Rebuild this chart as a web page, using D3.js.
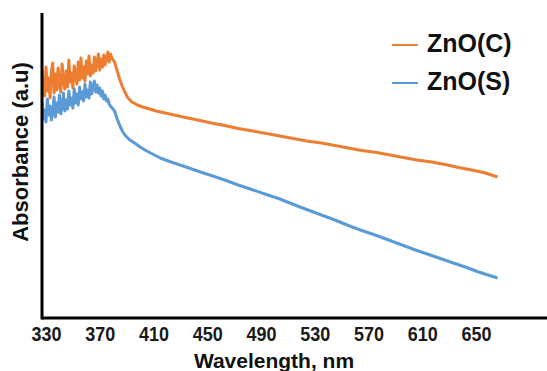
<!DOCTYPE html>
<html><head><meta charset="utf-8">
<script src="https://cdn.jsdelivr.net/npm/d3@7"></script>
<style>body{margin:0;background:#fff}svg{display:block}</style>
</head><body>
<script>
// ---- data ----
const seriesNames = ["ZnO(C)", "ZnO(S)"];
const seriesColors = ["#ED7D31", "#5B9BD5"];
const xTickLabels = [330, 370, 410, 450, 490, 530, 570, 610, 650];

// ZnO(C): wavelength (nm) and absorbance (a.u.)
const wlC = [327,328,329,330,331,332,333,334,335,336,337,338,339,340,341,342,343,344,345,346,347,348,349,350,351,352,353,354,355,356,357,358,359,360,361,362,363,364,365,366,367,368,369,370,371,372,373,374,375,376,377,378,379,
  381,383,385,387,389,391,394,398,402,407,412,417,422,432,443,453,463,473,484,494,504,514,524,535,545,555,565,576,586,596,606,617,627,637,647,657,666];
const absC = [2.48,2.30,2.22,2.51,2.27,2.40,2.20,2.46,2.55,2.25,2.44,2.28,2.50,2.33,2.26,2.54,2.37,2.29,2.47,2.31,2.58,2.36,2.45,2.30,2.52,2.41,2.34,2.56,2.38,2.60,2.40,2.51,2.37,2.57,2.44,2.62,2.42,2.53,2.45,2.61,2.47,2.56,2.64,2.48,2.59,2.51,2.63,2.53,2.60,2.66,2.56,2.64,2.60,
  2.56,2.47,2.38,2.31,2.25,2.20,2.16,2.13,2.11,2.09,2.07,2.055,2.04,2.01,1.98,1.95,1.925,1.895,1.87,1.845,1.82,1.795,1.77,1.75,1.725,1.70,1.675,1.655,1.63,1.605,1.58,1.56,1.535,1.505,1.48,1.45,1.41];

// ZnO(S)
const wlS = [327,328,329,330,331,332,333,334,335,336,337,338,339,340,341,342,343,344,345,346,347,348,349,350,351,352,353,354,355,356,357,358,359,360,361,362,363,364,365,366,367,368,369,370,371,372,373,374,375,376,377,378,
  381,383,385,387,389,392,397,400,405,410,415,422,432,445,453,463,473,482,494,504,519,535,545,556,565,576,586,593,606,617,631,642,652,666];
const absS = [2.16,1.99,2.08,1.96,2.19,2.03,2.12,1.98,2.05,2.21,2.01,2.15,2.06,2.23,2.04,2.11,2.25,2.07,2.18,2.09,2.27,2.13,2.20,2.10,2.29,2.15,2.24,2.13,2.31,2.19,2.26,2.17,2.34,2.21,2.28,2.20,2.36,2.24,2.31,2.37,2.26,2.33,2.25,2.30,2.22,2.27,2.19,2.23,2.17,2.19,2.14,2.12,
  2.07,1.99,1.92,1.865,1.825,1.785,1.74,1.71,1.67,1.635,1.60,1.565,1.52,1.46,1.425,1.38,1.33,1.29,1.235,1.19,1.11,1.03,0.98,0.92,0.875,0.825,0.775,0.74,0.675,0.625,0.56,0.51,0.46,0.40];

// ---- drawing ----
const W = 547, H = 371;
const FONT = "'Liberation Sans', Arial, sans-serif";
const svg = d3.select("body").append("svg").attr("width", W).attr("height", H);
const x = d3.scaleLinear().domain([330, 650]).range([46, 476]);
const y = d3.scaleLinear().domain([0, 3.05]).range([318, 13]);

const line = d3.line().x(d => x(d[0])).y(d => y(d[1]));
const dataC = wlC.map((w, i) => [w, absC[i]]);
const dataS = wlS.map((w, i) => [w, absS[i]]);

svg.append("defs").append("clipPath").attr("id", "plot")
  .append("rect").attr("x", 43).attr("y", 0).attr("width", W - 43).attr("height", 317);

const g = svg.append("g").attr("clip-path", "url(#plot)");
[dataC, dataS].forEach((d, i) => {
  g.append("path").datum(d).attr("d", line)
    .attr("fill", "none").attr("stroke", seriesColors[i])
    .attr("stroke-width", 3).attr("stroke-linejoin", "round");
});

// axes
const xAxis = d3.axisBottom(x).tickValues(xTickLabels).tickSize(0).tickPadding(0).tickFormat(d3.format("d"));
const xg = svg.append("g").attr("transform", "translate(0,318)").call(xAxis);
xg.select(".domain").remove();
xg.selectAll("text").attr("fill", "#1a1a1a")
  .style("font-family", FONT)
  .style("font-weight", "bold").style("font-size", "18px")
  .attr("dy", null).attr("y", 20.8).attr("transform", "scale(1,1.12)");

svg.append("line").attr("x1", 42).attr("x2", W).attr("y1", 318).attr("y2", 318)
  .attr("stroke", "#000").attr("stroke-width", 3);
svg.append("line").attr("x1", 42).attr("x2", 42).attr("y1", 13).attr("y2", 319.5)
  .attr("stroke", "#000").attr("stroke-width", 3);

// axis titles
svg.append("text").attr("x", 274).attr("y", 368).attr("text-anchor", "middle")
  .style("font-family", FONT)
  .style("font-weight", "bold").style("font-size", "21px").attr("fill", "#111")
  .text("Wavelength, nm");
svg.append("text").attr("transform", "translate(28,152) rotate(-90)").attr("text-anchor", "middle")
  .style("font-family", FONT)
  .style("font-weight", "bold").style("font-size", "22px").attr("fill", "#111")
  .text("Absorbance (a.u)");

// legend
const legY = [45, 83], legTextY = [52, 90];
seriesNames.forEach((n, i) => {
  svg.append("line").attr("x1", 392).attr("x2", 418).attr("y1", legY[i]).attr("y2", legY[i])
    .attr("stroke", seriesColors[i]).attr("stroke-width", 2);
  svg.append("text").attr("x", 427).attr("y", legTextY[i])
    .style("font-family", FONT)
    .style("font-weight", "bold").style("font-size", "25px").attr("fill", "#111")
    .text(n);
});
</script>
</body></html>
